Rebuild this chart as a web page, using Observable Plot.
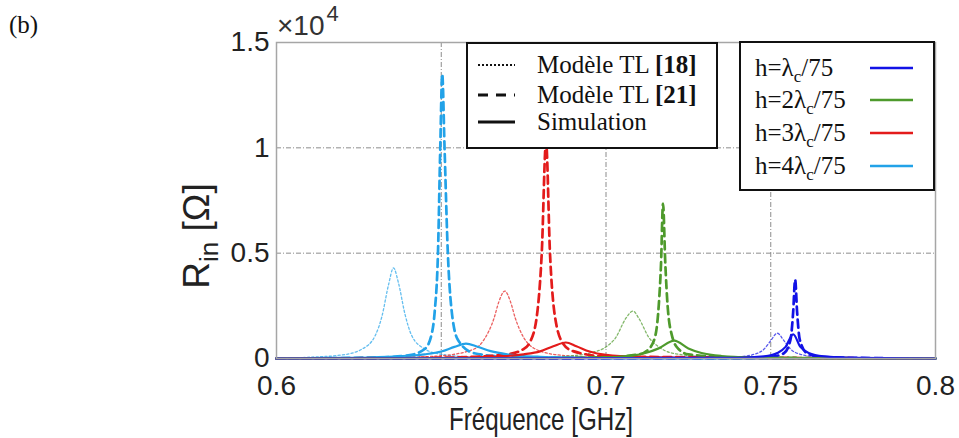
<!DOCTYPE html>
<html>
<head>
<meta charset="utf-8">
<script src="https://cdn.jsdelivr.net/npm/d3@7"></script>
<script src="https://cdn.jsdelivr.net/npm/@observablehq/plot@0.6"></script>
<style>
  html, body { margin: 0; padding: 0; background: #fff; }
  #chart { width: 959px; height: 438px; }
</style>
</head>
<body>
<div id="chart"></div>
<script>
// ---- tick labels ----
const xTicks = [0.6, 0.65, 0.7, 0.75, 0.8];
const xTickLabels = ["0.6", "0.65", "0.7", "0.75", "0.8"];
const yTicks = [0, 5000, 10000, 15000];
const yTickLabels = ["0", "0.5", "1", "1.5"];
const xGrid = [0.65, 0.7, 0.75];
const yGrid = [5000, 10000];

// ---- series ----
const heights = ["h=λc/75", "h=2λc/75", "h=3λc/75", "h=4λc/75"];
const heightNum = ["", "2", "3", "4"];
const heightColors = ["#1212e6", "#4e9a2c", "#e31b1b", "#22a2e8"];
const models = ["Modèle TL ", "Modèle TL ", "Simulation"];
const modelRefs = ["[18]", "[21]", ""];

// values: [frequency GHz, Rin Ohm]
// h = λc/75 (blue)
const h1_tl18 = [[0.6,0],[0.73,30],[0.74,80],[0.745,200],[0.748,450],[0.75,850],[0.752,1200],[0.754,850],[0.756,450],[0.759,200],[0.765,70],[0.78,20],[0.8,0]];
const h1_tl21 = [[0.6,0],[0.74,20],[0.75,80],[0.754,250],[0.756,900],[0.7568,2200],[0.7574,3750],[0.758,2200],[0.7588,900],[0.761,250],[0.765,80],[0.78,20],[0.8,0]];
const h1_sim  = [[0.6,0],[0.74,30],[0.748,100],[0.752,260],[0.7545,550],[0.7568,1150],[0.759,550],[0.7615,260],[0.766,100],[0.775,30],[0.8,0]];
// h = 2λc/75 (green)
const h2_tl18 = [[0.6,0],[0.68,50],[0.69,130],[0.695,260],[0.7,550],[0.703,1000],[0.706,1900],[0.7082,2250],[0.71,1900],[0.713,1000],[0.716,550],[0.72,260],[0.73,90],[0.75,30],[0.8,0]];
const h2_tl21 = [[0.6,0],[0.68,20],[0.7,60],[0.71,200],[0.713,450],[0.715,1100],[0.716,2500],[0.7167,4500],[0.7173,7350],[0.718,4500],[0.7187,2500],[0.72,1100],[0.722,450],[0.725,200],[0.74,50],[0.8,0]];
const h2_sim  = [[0.6,0],[0.68,15],[0.7,60],[0.708,140],[0.712,260],[0.716,480],[0.7207,850],[0.725,480],[0.729,260],[0.735,120],[0.745,50],[0.76,20],[0.8,0]];
// h = 3λc/75 (red)
const h3_tl18 = [[0.6,0],[0.64,60],[0.65,130],[0.66,450],[0.663,900],[0.666,1900],[0.6675,2700],[0.6693,3200],[0.671,2700],[0.6725,1900],[0.675,1000],[0.678,500],[0.685,180],[0.7,50],[0.8,0]];
const h3_tl21 = [[0.6,0],[0.65,40],[0.66,80],[0.67,200],[0.675,450],[0.677,800],[0.679,2000],[0.6805,5000],[0.6818,10300],[0.683,5000],[0.6845,2000],[0.687,700],[0.69,350],[0.7,100],[0.8,0]];
const h3_sim  = [[0.6,0],[0.64,20],[0.66,60],[0.67,120],[0.675,200],[0.68,340],[0.684,580],[0.6878,760],[0.691,580],[0.695,330],[0.7,170],[0.71,70],[0.73,25],[0.8,0]];
// h = 4λc/75 (light blue)
const h4_tl18 = [[0.6,0],[0.61,60],[0.62,170],[0.626,450],[0.63,1100],[0.632,2000],[0.634,3500],[0.6355,4300],[0.637,3600],[0.639,2100],[0.641,1100],[0.645,450],[0.65,200],[0.66,70],[0.68,20],[0.8,0]];
const h4_tl21 = [[0.6,0],[0.63,50],[0.64,150],[0.645,450],[0.647,1100],[0.648,2200],[0.649,5000],[0.6497,10000],[0.6503,13500],[0.651,10000],[0.652,5000],[0.653,2500],[0.655,900],[0.66,250],[0.67,80],[0.7,20],[0.8,0]];
const h4_sim  = [[0.6,0],[0.62,30],[0.63,60],[0.64,130],[0.645,200],[0.65,330],[0.654,550],[0.6575,710],[0.661,560],[0.665,350],[0.67,200],[0.675,120],[0.68,80],[0.69,40],[0.7,20],[0.8,0]];

const curves = [
  [h4_tl18, 3, 0], [h3_tl18, 2, 0], [h2_tl18, 1, 0], [h1_tl18, 0, 0],
  [h4_tl21, 3, 1], [h3_tl21, 2, 1], [h2_tl21, 1, 1], [h1_tl21, 0, 1],
  [h4_sim, 3, 2],  [h3_sim, 2, 2],  [h2_sim, 1, 2],  [h1_sim, 0, 2]
];

// line styles per model
const styleFor = [
  {strokeWidth: 1.3, strokeDasharray: "2.2,2.2", strokeOpacity: 0.7},
  {strokeWidth: 2.7, strokeDasharray: "8,5", strokeOpacity: 1},
  {strokeWidth: 2.2, strokeDasharray: null, strokeOpacity: 1}
];

const lineMarks = curves.map(([pts, hi, mi]) => {
  const rows = pts.map(([f, v]) => ({f, v, h: heights[hi]}));
  const s = styleFor[mi];
  const o = {x: "f", y: "v", stroke: "h", curve: "monotone-x",
             strokeWidth: s.strokeWidth, strokeOpacity: s.strokeOpacity};
  if (s.strokeDasharray) o.strokeDasharray = s.strokeDasharray;
  return Plot.line(rows, o);
});

const sans = "'Liberation Sans', Arial, sans-serif";
const serif = "'Liberation Serif', 'Times New Roman', serif";

const svg = Plot.plot({
  width: 959,
  height: 438,
  marginLeft: 276,
  marginRight: 24,
  marginTop: 42,
  marginBottom: 80,
  style: {fontFamily: sans, fontSize: "28px", color: "#222", background: "#fff"},
  x: {domain: [0.6, 0.8], ticks: xTicks, tickFormat: d => xTickLabels[xTicks.indexOf(d)], tickSize: 0, tickPadding: 17, label: null},
  y: {domain: [0, 15000], ticks: yTicks, tickFormat: d => yTickLabels[yTicks.indexOf(d)], tickSize: 0, tickPadding: 7, label: null},
  color: {domain: heights, range: heightColors},
  marks: [
    Plot.ruleX(xGrid, {stroke: "#8c8c8c", strokeWidth: 1, strokeDasharray: "5,2,1,2"}),
    Plot.ruleY(yGrid, {stroke: "#8c8c8c", strokeWidth: 1, strokeDasharray: "5,2,1,2"}),
    ...lineMarks,
    Plot.frame({stroke: "#a6a6a6", strokeWidth: 1.5})
  ]
});

document.getElementById("chart").appendChild(svg);

// tick label font
svg.querySelectorAll('g[aria-label$="tick label"], g[aria-label$="tick label"] text').forEach(el => {
  el.setAttribute("font-size", 28);
  el.style.fontSize = "28px";
  el.setAttribute("font-family", sans);
});

const S = d3.select(svg);
// (b)
S.append("text").attr("x", 9).attr("y", 33).attr("text-anchor", "start")
  .attr("font-family", serif).attr("font-size", 25).attr("fill", "#111").text("(b)");
// x10^4
const ex = S.append("text").attr("x", 277).attr("y", 35).attr("text-anchor", "start")
  .attr("font-family", sans).attr("font-size", 28).attr("fill", "#333");
ex.append("tspan").text("×10");
ex.append("tspan").attr("dx", 2).attr("dy", -14).attr("font-size", 22).text("4");
// x label
S.append("text").attr("transform", "translate(541,430) scale(0.78,1)").attr("text-anchor", "middle")
  .attr("font-family", sans).attr("font-size", 31).attr("fill", "#222")
  .text("Fréquence [GHz]");
// y label
const yl = S.append("text").attr("transform", "translate(209,236) rotate(-90)").attr("text-anchor", "middle")
  .attr("font-family", sans).attr("font-size", 37).attr("fill", "#222");
yl.append("tspan").text("R");
yl.append("tspan").attr("dy", 9).attr("font-size", 26).text("in");
yl.append("tspan").attr("dy", -9).text(" [Ω]");

// legend 1: models
S.append("rect").attr("x", 467).attr("y", 43).attr("width", 250).attr("height", 105)
  .attr("fill", "#fff").attr("stroke", "#111").attr("stroke-width", 2);
const legY1 = [65, 95, 122];
models.forEach((m, i) => {
  const ln = S.append("line").attr("x1", 478).attr("x2", 515).attr("y1", legY1[i]).attr("y2", legY1[i])
    .attr("stroke", "#111").attr("stroke-width", i === 0 ? 2 : 3);
  if (i === 0) ln.attr("stroke-dasharray", "2,2");
  if (i === 1) ln.attr("stroke-dasharray", "10,8");
  const t = S.append("text").attr("x", 537).attr("y", legY1[i] + 8).attr("text-anchor", "start")
    .attr("font-family", serif).attr("font-size", 25).attr("fill", "#111");
  t.append("tspan").text(m);
  if (modelRefs[i]) t.append("tspan").attr("font-weight", "bold").text(modelRefs[i]);
});
// legend 2: heights
S.append("rect").attr("x", 740).attr("y", 42).attr("width", 194).attr("height", 148)
  .attr("fill", "#fff").attr("stroke", "#111").attr("stroke-width", 2);
const legY2 = [68, 100, 133, 166];
heights.forEach((h, i) => {
  S.append("line").attr("x1", 870).attr("x2", 913).attr("y1", legY2[i]).attr("y2", legY2[i])
    .attr("stroke", heightColors[i]).attr("stroke-width", 2.5);
  const t = S.append("text").attr("x", 755).attr("y", legY2[i] + 8).attr("text-anchor", "start")
    .attr("font-family", serif).attr("font-size", 25).attr("fill", "#111");
  t.append("tspan").text("h=" + heightNum[i] + "λ");
  t.append("tspan").attr("dy", 6).attr("font-size", 17).text("c");
  t.append("tspan").attr("dy", -6).text("/75");
});
</script>
</body>
</html>
